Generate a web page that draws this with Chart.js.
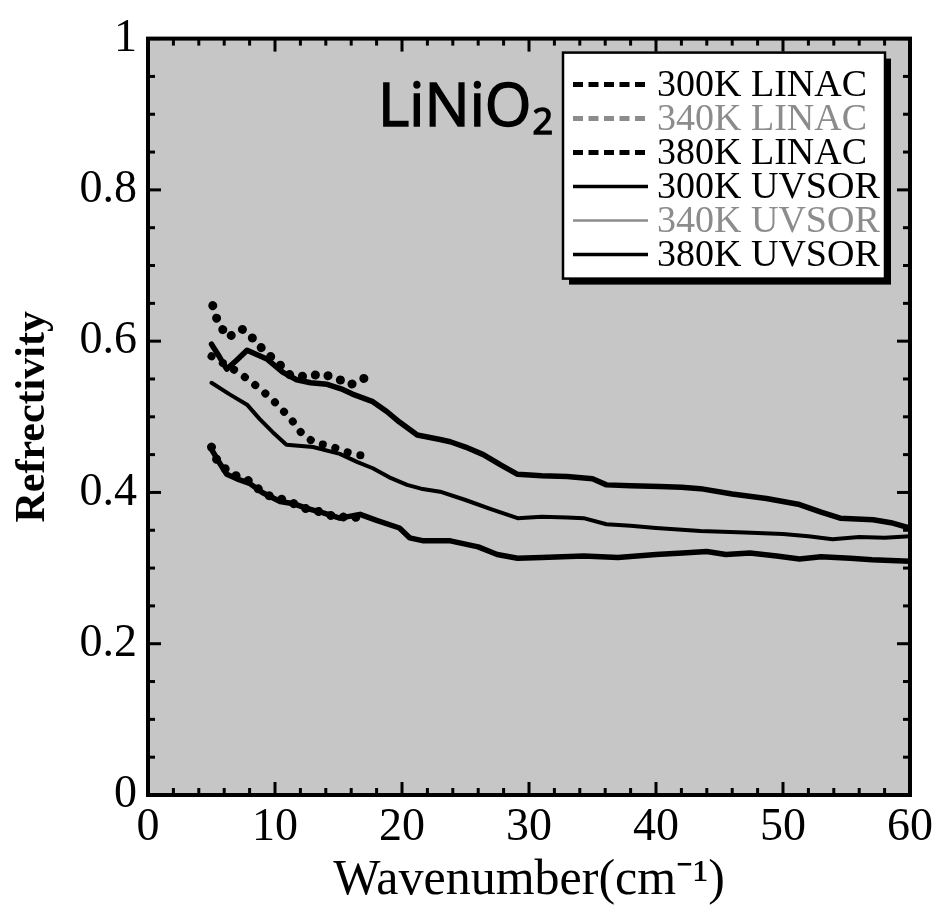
<!DOCTYPE html>
<html>
<head>
<meta charset="utf-8">
<script src="https://cdn.jsdelivr.net/npm/chart.js@4.4.0/dist/chart.umd.min.js"></script>
<style>
  html, body { margin: 0; padding: 0; background: #fff; }
  #wrap { width: 939px; height: 916px; }
</style>
</head>
<body>
<div id="wrap"><canvas id="chart"></canvas></div>
<script>
// DATA

const seriesLabels = ['300K LINAC', '340K LINAC', '380K LINAC', '300K UVSOR', '340K UVSOR', '380K UVSOR'];

const linac300X = [5.1, 5.5, 6.3, 7.4, 8.3, 9.2, 10.2, 11.2, 12.5, 13.7, 15.1, 15.9, 16.9, 17.3];
const linac300Y = [0.647, 0.625, 0.605, 0.616, 0.603, 0.586, 0.572, 0.555, 0.553, 0.557, 0.549, 0.542, 0.55, 0.553];

const linac340X = [5.0, 6.0, 7.0, 8.0, 9.1, 10.2, 11.3, 12.2, 13.2, 14.3, 15.3, 16.3, 17.2];
const linac340Y = [0.58, 0.57, 0.56, 0.548, 0.533, 0.516, 0.496, 0.476, 0.465, 0.462, 0.455, 0.45, 0.448];

const linac380X = [5.0, 5.5, 6.5, 8.0, 9.0, 10.0, 11.0, 12.0, 13.0, 14.0, 15.0, 16.0, 17.0];
const linac380Y = [0.46, 0.44, 0.425, 0.415, 0.40, 0.392, 0.39, 0.38, 0.377, 0.372, 0.366, 0.37, 0.362];

const uvsor300X = [5.0, 5.6, 6.2, 7.0, 7.8, 8.6, 9.4, 10.6, 11.7, 12.8, 14.1, 15.2, 16.1, 17.7, 18.8, 19.8,
  21.2, 23.0, 23.8, 25.0, 26.4, 27.8, 29.1, 31, 33, 35, 36.1, 38, 40.3, 42, 43.5, 46, 48.7, 51.3, 53, 54.5,
  57.1, 58.5, 60];
const uvsor300Y = [0.596, 0.58, 0.563, 0.575, 0.588, 0.582, 0.576, 0.559, 0.549, 0.545, 0.543, 0.537, 0.53,
  0.52, 0.507, 0.493, 0.476, 0.47, 0.467, 0.46, 0.45, 0.436, 0.424, 0.422, 0.421, 0.418, 0.41, 0.409, 0.408,
  0.407, 0.405, 0.398, 0.392, 0.384, 0.374, 0.366, 0.364, 0.36, 0.353];

const uvsor340X = [5.0, 6.4, 7.8, 8.8, 9.8, 10.9, 13, 15.1, 16.5, 17.7, 19, 20.4, 21.5, 23, 25, 27, 29.1, 31,
  33, 34.3, 36.1, 38, 40, 43.5, 47, 50, 52, 53.9, 56, 58, 60];
const uvsor340Y = [0.545, 0.53, 0.516, 0.497, 0.48, 0.463, 0.46, 0.451, 0.44, 0.432, 0.42, 0.41, 0.405, 0.401,
  0.39, 0.378, 0.366, 0.368, 0.367, 0.366, 0.358, 0.356, 0.353, 0.349, 0.347, 0.345, 0.342, 0.338, 0.341,
  0.34, 0.342];

const uvsor380X = [5.0, 5.6, 6.2, 7, 8, 9, 10.4, 11.5, 12.5, 13.8, 15.1, 16.7, 18, 19.8, 20.6, 21.7, 23.8, 26,
  27.5, 29.1, 31, 34.3, 37, 40, 42.1, 44, 45.5, 47.4, 49.5, 51.3, 53, 55.3, 57, 60];
const uvsor380Y = [0.457, 0.44, 0.424, 0.418, 0.412, 0.4, 0.388, 0.385, 0.379, 0.373, 0.366, 0.371, 0.363,
  0.353, 0.34, 0.336, 0.336, 0.328, 0.318, 0.313, 0.314, 0.316, 0.314, 0.318, 0.32, 0.322, 0.318, 0.32,
  0.316, 0.312, 0.315, 0.313, 0.311, 0.309];

const xTicks = [0, 10, 20, 30, 40, 50, 60];
const yTicks = [0, 0.2, 0.4, 0.6, 0.8, 1];

// helpers

function pts(xs, ys) {
  return xs.map((x, i) => ({ x: x, y: ys[i] }));
}

function dotted(label, xs, ys, width, legendColor) {
  return {
    label: label,
    data: pts(xs, ys),
    borderColor: '#000',
    borderWidth: width,
    borderDash: [0.1, 13],
    borderCapStyle: 'round',
    pointRadius: 0,
    tension: 0,
    fill: false,
    legendDash: true,
    legendColor: legendColor,
  };
}

function solid(label, xs, ys, width, legendColor) {
  return {
    label: label,
    data: pts(xs, ys),
    borderColor: '#000',
    borderWidth: width,
    borderJoinStyle: 'round',
    borderCapStyle: 'round',
    pointRadius: 0,
    tension: 0,
    fill: false,
    legendDash: false,
    legendColor: legendColor,
  };
}

// frame, inner ticks, legend box, compound label

function stroke(ctx, x1, y1, x2, y2) {
  ctx.beginPath();
  ctx.moveTo(x1, y1);
  ctx.lineTo(x2, y2);
  ctx.stroke();
}

const paperPlugin = {
  id: 'paper',
  beforeDraw(chart) {
    const { ctx, chartArea: a } = chart;
    ctx.save();
    ctx.fillStyle = '#c6c6c6';
    ctx.fillRect(a.left, a.top, a.right - a.left, a.bottom - a.top);
    ctx.restore();
  },
  afterDatasetsDraw(chart) {
    const { ctx, chartArea: a, scales: { x, y } } = chart;
    ctx.save();
    ctx.strokeStyle = '#000';
    ctx.lineCap = 'butt';

    // ticks pointing inward on all four sides
    ctx.lineWidth = 3;
    for (let v = 0; v <= 60; v += 2) {
      const px = x.getPixelForValue(v);
      const len = v % 10 === 0 ? 13 : 7;
      stroke(ctx, px, a.bottom, px, a.bottom - len);
      stroke(ctx, px, a.top, px, a.top + len);
    }
    for (let i = 0; i <= 20; i++) {
      const py = y.getPixelForValue(i * 0.05);
      const len = i % 4 === 0 ? 13 : 7;
      stroke(ctx, a.left, py, a.left + len, py);
      stroke(ctx, a.right, py, a.right - len, py);
    }

    // thick frame
    ctx.lineWidth = 4;
    ctx.strokeRect(a.left, a.top, a.right - a.left, a.bottom - a.top);

    // legend box with drop shadow
    const bw = 322, bh = 226;
    const bx = a.right - 347, by = a.top + 14;
    ctx.fillStyle = '#000';
    ctx.fillRect(bx + 6, by + 6, bw, bh);
    ctx.fillStyle = '#fff';
    ctx.fillRect(bx, by, bw, bh);
    ctx.lineWidth = 2.5;
    ctx.strokeRect(bx, by, bw, bh);

    ctx.font = '38px "Liberation Serif"';
    ctx.textBaseline = 'middle';
    ctx.textAlign = 'left';
    chart.data.datasets.forEach((ds, i) => {
      const cy = by + 32 + i * 34;
      ctx.strokeStyle = ds.legendColor;
      if (ds.legendDash) {
        ctx.lineWidth = 5;
        ctx.setLineDash([10, 5.5]);
      } else {
        ctx.lineWidth = i === 4 ? 2.5 : 3.5;
        ctx.setLineDash([]);
      }
      stroke(ctx, bx + 10, cy, bx + 85, cy);
      ctx.setLineDash([]);
      ctx.fillStyle = ds.legendColor;
      ctx.fillText(ds.label, bx + 94, cy + 1);
    });

    // compound name
    const tx = a.left + 230, ty = a.top + 87;
    ctx.fillStyle = '#000';
    ctx.strokeStyle = '#000';
    ctx.lineWidth = 1.5;
    ctx.textBaseline = 'alphabetic';
    ctx.font = '60px "Open Sans"';
    ctx.fillText('LiNiO', tx, ty);
    ctx.strokeText('LiNiO', tx, ty);
    const w = ctx.measureText('LiNiO').width;
    ctx.font = '36px "Open Sans"';
    ctx.fillText('2', tx + w + 1, ty + 8);
    ctx.strokeText('2', tx + w + 1, ty + 8);

    ctx.restore();
  }
};

const ctx = document.getElementById('chart').getContext('2d');

const myChart = new Chart(ctx, {
  type: 'line',
  data: {
    datasets: [
      dotted(seriesLabels[0], linac300X, linac300Y, 9, '#000'),
      dotted(seriesLabels[1], linac340X, linac340Y, 8, '#8c8c8c'),
      dotted(seriesLabels[2], linac380X, linac380Y, 9, '#000'),
      solid(seriesLabels[3], uvsor300X, uvsor300Y, 5.5, '#000'),
      solid(seriesLabels[4], uvsor340X, uvsor340Y, 4, '#8c8c8c'),
      solid(seriesLabels[5], uvsor380X, uvsor380Y, 5.5, '#000'),
    ],
  },
  options: {
    responsive: true,
    maintainAspectRatio: false,
    animation: false,
    layout: { padding: { top: 34, right: 29, left: 0, bottom: 0 } },
    plugins: {
      legend: { display: false },
      tooltip: { enabled: false },
    },
    scales: {
      x: {
        type: 'linear',
        min: 0,
        max: 60,
        afterFit: s => { s.height = 121; },
        afterBuildTicks: s => { s.ticks = xTicks.map(v => ({ value: v })); },
        grid: { display: false, drawTicks: false },
        border: { display: false },
        ticks: {
          color: '#000',
          padding: 5,
          maxRotation: 0,
          font: { family: '"Liberation Serif"', size: 46 },
        },
        title: {
          display: true,
          text: 'Wavenumber(cm\u207B\u00B9)',
          color: '#000',
          padding: { top: 0, bottom: 5 },
          font: { family: '"Liberation Serif"', size: 50 },
        },
      },
      y: {
        min: 0,
        max: 1,
        afterFit: s => { s.width = 148; },
        afterBuildTicks: s => { s.ticks = yTicks.map(v => ({ value: v })); },
        grid: { display: false, drawTicks: false },
        border: { display: false },
        ticks: {
          color: '#000',
          padding: 11,
          font: { family: '"Liberation Serif"', size: 46 },
          callback: v => String(Number(v.toFixed(2))),
        },
        title: {
          display: true,
          text: 'Refrectivity',
          color: '#000',
          padding: { top: 8, bottom: 0 },
          font: { family: '"Liberation Serif"', size: 42, weight: 'bold' },
        },
      },
    },
  },
  plugins: [paperPlugin],
});
</script>
</body>
</html>
